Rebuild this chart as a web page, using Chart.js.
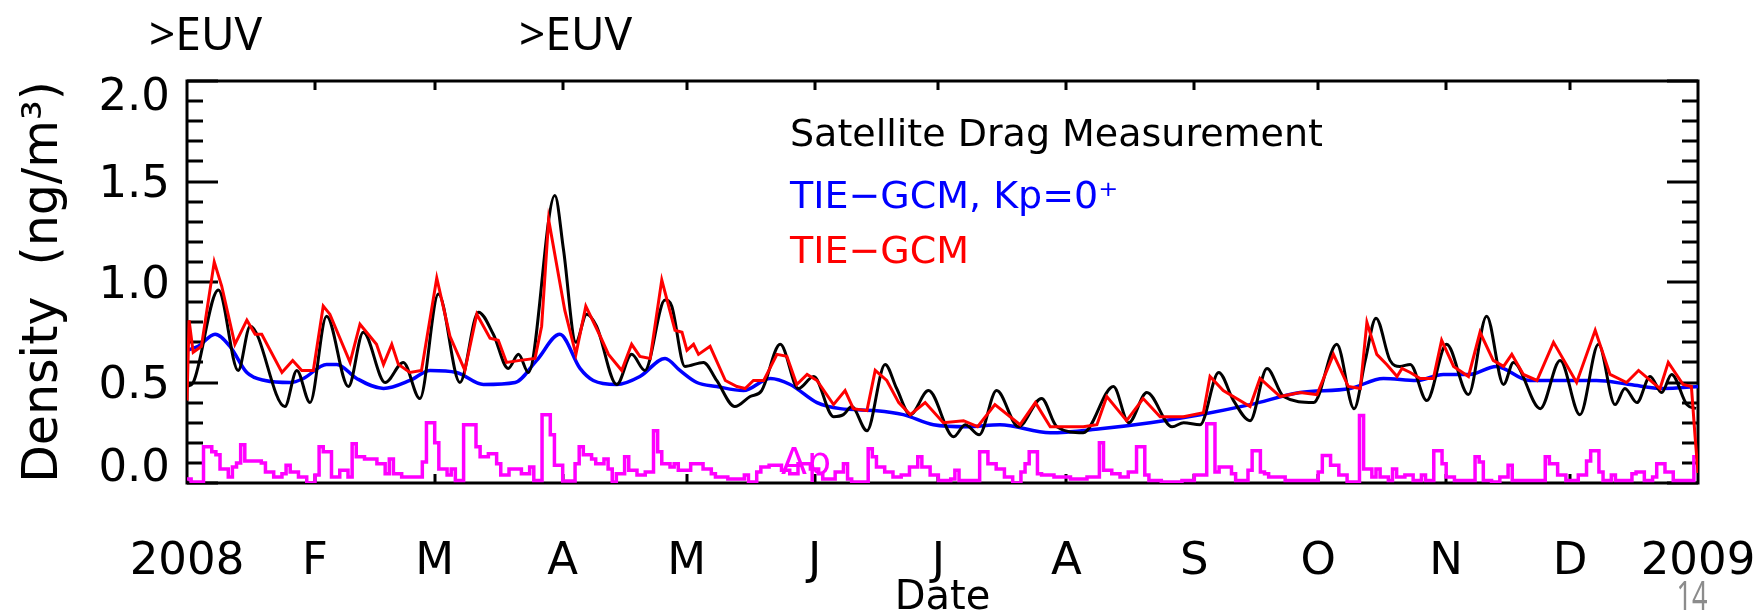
<!DOCTYPE html>
<html>
<head>
<meta charset="utf-8">
<title>Thermosphere density 2008</title>
<script src="https://cdn.jsdelivr.net/npm/chart.js@4.4.0/dist/chart.umd.min.js"></script>
<style>
  body { margin: 0; background: #fff; }
  #wrap { position: relative; width: 1758px; height: 613px; }
</style>
</head>
<body>
<div id="wrap"><canvas id="densityChart"></canvas></div>
<script>
// x values are days since 2008-01-01, densities in ng/m^3
var dragDays = [0, 1.5, 7.6, 12.4, 15.3, 23.7, 26.6, 29.8, 33.8, 39.1, 42.7, 48.0, 52.4, 56.4, 60.9, 66.1, 70.6, 74.2, 77.8, 80.3, 82.7, 89.1, 91.2, 94.2, 96.8, 99.2, 104.1, 107.7, 110.9, 115.8, 117.4, 120.6, 125.1, 128.3, 132.7, 136.4, 139.2, 143.7, 148.1, 151.8, 156.6, 159.0, 161.0, 164.7, 169.1, 171.9, 175.2, 179.6, 185.7, 188.5, 191.9, 196.1, 201.4, 207.0, 210.7, 217.1, 224.4, 228.1, 232.5, 238.6, 241.4, 245.4, 249.9, 253.5, 257.5, 261.6, 265.6, 272.9, 278.5, 282.7, 285.4, 288.0, 291.4, 293.8, 296.3, 300.3, 305.1, 310.4, 314.8, 318.9, 321.3, 327.8, 332.6, 337.4, 341.9, 345.9, 348.3, 351.2, 354.4, 357.2, 359.6, 363.3, 365.5];
var dragDensity = [0.48, 0.50, 0.96, 0.56, 0.78, 0.38, 0.56, 0.40, 0.83, 0.48, 0.75, 0.50, 0.60, 0.42, 0.94, 0.50, 0.85, 0.74, 0.57, 0.64, 0.55, 1.43, 1.16, 0.70, 0.84, 0.78, 0.49, 0.64, 0.56, 0.91, 0.88, 0.58, 0.60, 0.51, 0.38, 0.43, 0.46, 0.69, 0.47, 0.53, 0.33, 0.34, 0.38, 0.26, 0.59, 0.47, 0.34, 0.46, 0.23, 0.29, 0.24, 0.46, 0.28, 0.42, 0.28, 0.25, 0.48, 0.30, 0.45, 0.28, 0.30, 0.29, 0.55, 0.41, 0.31, 0.57, 0.43, 0.40, 0.69, 0.37, 0.61, 0.82, 0.61, 0.58, 0.59, 0.41, 0.69, 0.44, 0.83, 0.49, 0.60, 0.37, 0.61, 0.34, 0.69, 0.39, 0.47, 0.40, 0.53, 0.45, 0.54, 0.39, 0.37];

var tiegcmDays = [0, 0.5, 1.5, 3.5, 6.6, 8.4, 11.6, 14.5, 16.5, 18.1, 23.0, 25.6, 27.8, 30.6, 33.0, 34.6, 39.5, 41.9, 45.9, 47.6, 49.6, 51.2, 54.0, 56.8, 60.5, 63.7, 67.3, 70.2, 73.4, 75.4, 77.4, 80.7, 84.3, 85.9, 87.6, 91.5, 94.2, 96.6, 100.1, 102.1, 105.3, 107.7, 109.7, 112.2, 115.0, 118.2, 119.9, 121.1, 122.7, 123.9, 126.7, 130.4, 133.2, 135.2, 137.2, 139.7, 142.9, 145.3, 147.7, 150.2, 152.6, 156.6, 159.4, 161.4, 164.7, 166.7, 169.5, 172.4, 175.2, 178.8, 183.2, 188.1, 191.5, 195.7, 201.8, 205.5, 209.1, 217.1, 220.4, 222.8, 227.6, 231.6, 235.7, 241.4, 246.2, 247.8, 251.0, 257.5, 259.9, 264.8, 269.6, 273.7, 277.7, 281.3, 284.2, 285.8, 288.2, 290.6, 293.1, 294.3, 296.3, 298.7, 301.9, 303.9, 306.8, 310.4, 313.2, 316.4, 318.9, 320.9, 323.7, 327.0, 331.0, 336.6, 341.1, 344.7, 348.7, 351.6, 356.8, 358.8, 362.4, 364.4, 365.3, 366];
var tiegcmDensity = [0.41, 0.81, 0.65, 0.68, 1.10, 0.98, 0.69, 0.81, 0.74, 0.74, 0.55, 0.61, 0.56, 0.56, 0.88, 0.84, 0.60, 0.79, 0.69, 0.59, 0.69, 0.59, 0.55, 0.56, 1.02, 0.73, 0.56, 0.84, 0.72, 0.71, 0.60, 0.61, 0.62, 0.78, 1.31, 0.86, 0.64, 0.88, 0.73, 0.64, 0.56, 0.69, 0.63, 0.62, 1.01, 0.76, 0.75, 0.66, 0.69, 0.64, 0.68, 0.51, 0.48, 0.47, 0.51, 0.51, 0.64, 0.63, 0.49, 0.54, 0.51, 0.39, 0.46, 0.37, 0.36, 0.56, 0.51, 0.40, 0.34, 0.40, 0.30, 0.31, 0.28, 0.39, 0.29, 0.40, 0.28, 0.28, 0.29, 0.43, 0.31, 0.42, 0.33, 0.33, 0.35, 0.53, 0.46, 0.38, 0.52, 0.43, 0.45, 0.44, 0.64, 0.48, 0.47, 0.80, 0.64, 0.59, 0.53, 0.57, 0.55, 0.52, 0.52, 0.71, 0.58, 0.53, 0.75, 0.61, 0.58, 0.64, 0.54, 0.51, 0.70, 0.50, 0.76, 0.54, 0.50, 0.56, 0.47, 0.60, 0.49, 0.48, 0.23, 0.05];

// TIE-GCM run held at Kp = 0+
var quietDays = [0, 2.7, 6.8, 10.4, 14.5, 18.9, 25.0, 28.2, 33.8, 36.3, 41.1, 47.6, 54.0, 58.9, 65.3, 71.8, 79.5, 84.7, 90.3, 95.2, 98.4, 104.1, 109.7, 115.8, 119.4, 123.5, 128.3, 134.8, 141.3, 146.1, 152.6, 158.2, 167.1, 173.5, 180.8, 188.9, 196.9, 209.1, 221.2, 233.3, 245.4, 257.5, 269.6, 281.7, 289.8, 297.9, 304.3, 310.7, 317.1, 325.2, 333.3, 341.4, 349.5, 357.6, 366];
var quietDensity = [0.66, 0.68, 0.74, 0.68, 0.55, 0.51, 0.50, 0.52, 0.59, 0.59, 0.52, 0.47, 0.51, 0.56, 0.55, 0.49, 0.50, 0.61, 0.74, 0.57, 0.51, 0.49, 0.53, 0.62, 0.56, 0.50, 0.48, 0.46, 0.52, 0.49, 0.40, 0.37, 0.36, 0.34, 0.29, 0.28, 0.29, 0.25, 0.27, 0.30, 0.34, 0.39, 0.45, 0.47, 0.52, 0.51, 0.54, 0.54, 0.58, 0.51, 0.51, 0.51, 0.49, 0.47, 0.48];

// daily Ap index, plotted on the density axis (each value holds until the next day listed)
var apDays = [0, 1, 4, 6, 7, 8, 10, 11, 12, 13, 14, 18, 19, 21, 23, 24, 25, 27, 29, 31, 32, 33, 35, 37, 39, 40, 41, 43, 46, 48, 49, 50, 52, 57, 58, 60, 61, 63, 64, 65, 67, 70, 71, 73, 75, 76, 78, 81, 83, 84, 86, 88, 89, 91, 94, 95, 96, 98, 99, 101, 102, 103, 104, 106, 107, 109, 111, 113, 114, 115, 117, 118, 119, 122, 125, 127, 128, 131, 135, 136, 138, 139, 141, 144, 146, 148, 151, 153, 154, 157, 159, 160, 161, 165, 166, 167, 169, 171, 173, 175, 177, 178, 180, 182, 185, 186, 187, 192, 194, 196, 198, 200, 202, 203, 204, 206, 207, 210, 214, 218, 221, 222, 224, 226, 228, 230, 232, 233, 236, 241, 244, 247, 249, 250, 253, 254, 257, 258, 260, 261, 262, 266, 274, 275, 277, 279, 281, 284, 285, 287, 288, 289, 291, 292, 293, 295, 297, 299, 300, 302, 304, 305, 307, 312, 313, 314, 316, 318, 320, 321, 329, 330, 332, 334, 337, 339, 340, 342, 343, 345, 346, 350, 351, 353, 355, 356, 358, 360, 365, 366];
var apLevel = [0.02, 0.005, 0.18, 0.155, 0.14, 0.07, 0.03, 0.08, 0.10, 0.19, 0.11, 0.10, 0.055, 0.03, 0.046, 0.088, 0.055, 0.03, 0.0, 0.04, 0.18, 0.155, 0.03, 0.063, 0.03, 0.195, 0.13, 0.12, 0.096, 0.046, 0.12, 0.046, 0.03, 0.104, 0.30, 0.20, 0.07, 0.04, 0.07, 0.013, 0.29, 0.18, 0.13, 0.145, 0.096, 0.04, 0.07, 0.046, 0.08, 0.013, 0.34, 0.24, 0.088, 0.01, 0.096, 0.18, 0.14, 0.12, 0.096, 0.12, 0.07, 0.005, 0.046, 0.13, 0.063, 0.04, 0.055, 0.26, 0.155, 0.096, 0.08, 0.096, 0.063, 0.096, 0.07, 0.046, 0.03, 0.02, 0.04, 0.005, 0.055, 0.08, 0.088, 0.063, 0.046, 0.096, 0.07, 0.046, 0.02, 0.055, 0.096, 0.02, 0.005, 0.17, 0.13, 0.08, 0.055, 0.03, 0.04, 0.08, 0.13, 0.08, 0.04, 0.013, 0.02, 0.063, 0.013, 0.155, 0.096, 0.07, 0.03, 0.0, 0.055, 0.096, 0.155, 0.046, 0.04, 0.03, 0.02, 0.03, 0.20, 0.063, 0.046, 0.03, 0.055, 0.18, 0.04, 0.013, 0.005, 0.013, 0.04, 0.295, 0.055, 0.08, 0.046, 0.013, 0.063, 0.16, 0.055, 0.046, 0.03, 0.013, 0.055, 0.137, 0.088, 0.04, 0.005, 0.336, 0.07, 0.03, 0.07, 0.03, 0.013, 0.07, 0.03, 0.04, 0.013, 0.04, 0.013, 0.16, 0.096, 0.03, 0.013, 0.13, 0.104, 0.013, 0.005, 0.03, 0.088, 0.013, 0.13, 0.096, 0.04, 0.013, 0.04, 0.11, 0.16, 0.055, 0.013, 0.04, 0.013, 0.046, 0.055, 0.013, 0.03, 0.096, 0.055, 0.013, 0.13, 0.13];

var monthDays = [0, 31, 60, 91, 121, 152, 182, 213, 244, 274, 305, 335, 366];
var monthLabels = ['2008', 'F', 'M', 'A', 'M', 'J', 'J', 'A', 'S', 'O', 'N', 'D', '2009'];
var densityLabels = [0, 0.5, 1.0, 1.5, 2.0];

function toPoints(days, values) {
  return days.map(function (d, i) { return { x: d, y: values[i] }; });
}

// IDL style box: frame, inward ticks on all four sides, density labels kept inside the frame height
var boxAxes = {
  id: 'boxAxes',
  beforeDatasetsDraw: function (chart) {
    var ctx = chart.ctx, a = chart.chartArea;
    var xs = chart.scales.x, ys = chart.scales.y;
    ctx.save();
    ctx.strokeStyle = '#000';
    ctx.lineWidth = 3;
    ctx.beginPath();
    for (var i = 0; i <= 20; i++) {
      var py = Math.round(ys.getPixelForValue(i / 10));
      var len = (i % 5 === 0) ? 31 : 16;
      ctx.moveTo(a.left, py); ctx.lineTo(a.left + len, py);
      ctx.moveTo(a.right, py); ctx.lineTo(a.right - len, py);
    }
    for (var m = 1; m < monthDays.length - 1; m++) {
      var px = Math.round(xs.getPixelForValue(monthDays[m]));
      ctx.moveTo(px, a.bottom); ctx.lineTo(px, a.bottom - 9);
      ctx.moveTo(px, a.top); ctx.lineTo(px, a.top + 9);
    }
    ctx.stroke();
    ctx.strokeRect(a.left, a.top, a.right - a.left, a.bottom - a.top);

    ctx.fillStyle = '#000';
    ctx.font = '45px "DejaVu Sans"';
    ctx.textAlign = 'right';
    ctx.textBaseline = 'middle';
    densityLabels.forEach(function (v) {
      var y = ys.getPixelForValue(v) + 4;
      y = Math.min(Math.max(y, a.top + 17), a.bottom - 14);
      ctx.fillText(v.toFixed(1), a.left - 17, y);
    });
    ctx.restore();
  }
};

var notes = {
  id: 'notes',
  afterDraw: function (chart) {
    var ctx = chart.ctx;
    ctx.save();
    ctx.textAlign = 'left';
    ctx.textBaseline = 'alphabetic';
    ctx.fillStyle = '#000';
    ctx.font = '46px "Noto Sans"';
    ctx.fillText('>EUV', 149, 50);
    ctx.fillText('>EUV', 519, 50);

    ctx.font = '38px "DejaVu Sans"';
    ctx.fillText('Satellite Drag Measurement', 790, 146);
    ctx.fillStyle = '#0000ff';
    ctx.fillText('TIE\u2212GCM, Kp=0\u207A', 790, 208);
    ctx.fillStyle = '#ff0000';
    ctx.fillText('TIE\u2212GCM', 790, 263);
    ctx.fillStyle = '#ff00ff';
    ctx.fillText('Ap', 781, 474);

    // slide number, narrow face
    ctx.fillStyle = '#8c8c8c';
    ctx.font = '40px "Noto Sans"';
    ctx.textAlign = 'center';
    ctx.translate(1692, 610);
    ctx.scale(0.68, 1);
    ctx.fillText('14', 0, 0);
    ctx.restore();
  }
};

Chart.defaults.font.family = '"DejaVu Sans", sans-serif';
Chart.defaults.color = '#000';

new Chart(document.getElementById('densityChart'), {
  type: 'line',
  data: {
    datasets: [{
      label: 'TIE-GCM',
      data: toPoints(tiegcmDays, tiegcmDensity),
      borderColor: '#ff0000',
      borderWidth: 3,
      order: 0
    }, {
      label: 'Satellite Drag Measurement',
      data: toPoints(dragDays, dragDensity),
      borderColor: '#000000',
      borderWidth: 3,
      cubicInterpolationMode: 'monotone',
      order: 1
    }, {
      label: 'TIE-GCM, Kp=0+',
      data: toPoints(quietDays, quietDensity),
      borderColor: '#0000ff',
      borderWidth: 3.5,
      cubicInterpolationMode: 'monotone',
      order: 2
    }, {
      label: 'Ap',
      data: toPoints(apDays, apLevel),
      borderColor: '#ff00ff',
      borderWidth: 3.5,
      stepped: true,
      order: 3
    }]
  },
  options: {
    responsive: true,
    maintainAspectRatio: false,
    animation: false,
    events: [],
    layout: { padding: { left: 0, right: 60, top: 81, bottom: 0 } },
    elements: { point: { radius: 0 }, line: { tension: 0 } },
    plugins: { legend: { display: false }, tooltip: { enabled: false } },
    scales: {
      x: {
        type: 'linear',
        min: 0,
        max: 366,
        grid: { display: false, drawTicks: false },
        border: { display: false },
        afterBuildTicks: function (scale) {
          scale.ticks = monthDays.map(function (d) { return { value: d }; });
        },
        afterFit: function (scale) {
          scale.height = 130;
          // end labels may hang past the frame
          scale.paddingLeft = 0;
          scale.paddingRight = 0;
        },
        ticks: {
          autoSkip: false,
          maxRotation: 0,
          padding: 57,
          font: { size: 45, lineHeight: 1 },
          callback: function (value, index) { return monthLabels[index]; }
        },
        title: {
          display: true,
          text: 'Date',
          font: { size: 40, lineHeight: 0.7 },
          padding: 0
        }
      },
      y: {
        min: 0,
        max: 2.0,
        grid: { display: false, drawTicks: false },
        border: { display: false },
        ticks: { display: false },
        afterFit: function (scale) {
          scale.width = 187;
          scale.paddingTop = 0;
          scale.paddingBottom = 0;
        },
        title: {
          display: true,
          text: 'Density  (ng/m\u00B3)',
          font: { size: 49, lineHeight: 1 },
          padding: { top: 20, bottom: 0 }
        }
      }
    }
  },
  plugins: [boxAxes, notes]
});
</script>
</body>
</html>
